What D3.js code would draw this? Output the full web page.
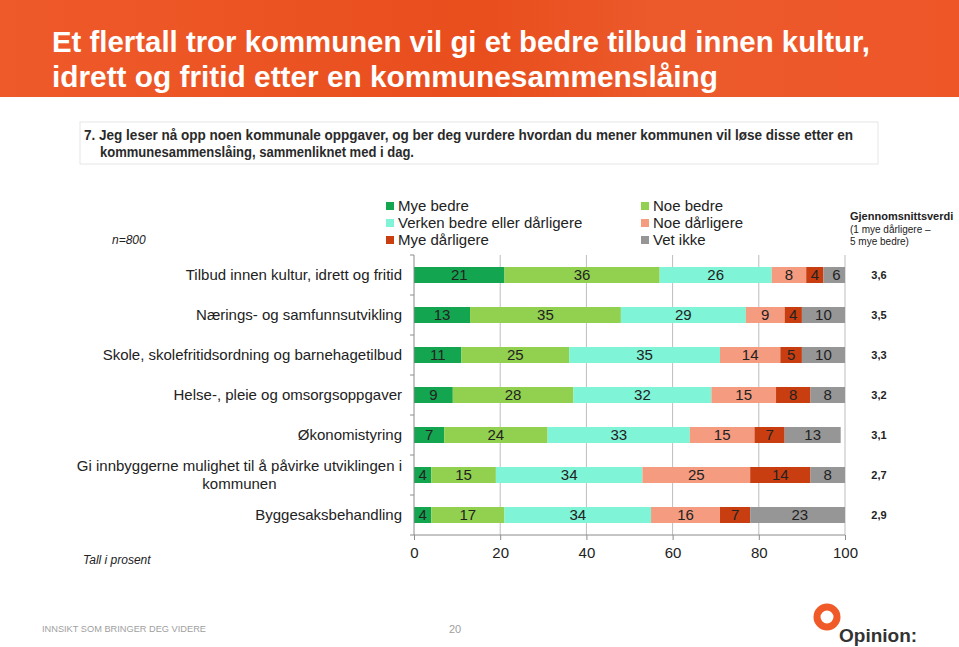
<!DOCTYPE html>
<html><head><meta charset="utf-8">
<script src="https://cdn.jsdelivr.net/npm/d3@7"></script>
<style>body{margin:0;background:#fff;}svg{display:block;font-family:Arial,"Liberation Sans",sans-serif;}</style>
</head><body>
<svg id="c" width="959" height="647"></svg>
<script>
const categories = [
  "Tilbud innen kultur, idrett og fritid",
  "Nærings- og samfunnsutvikling",
  "Skole, skolefritidsordning og barnehagetilbud",
  "Helse-, pleie og omsorgsoppgaver",
  "Økonomistyring",
  "Gi innbyggerne mulighet til å påvirke utviklingen i kommunen",
  "Byggesaksbehandling"
];
const seriesNames = ["Mye bedre","Noe bedre","Verken bedre eller dårligere","Noe dårligere","Mye dårligere","Vet ikke"];
const seriesColors = ["#14a550","#92d050","#7ff4d6","#f59b80","#c83e10","#969696"];
const myeBedre   = [21,13,11,9,7,4,4];
const noeBedre   = [36,35,25,28,24,15,17];
const verken     = [26,29,35,32,33,34,34];
const noeDarlig  = [8,9,14,15,15,25,16];
const myeDarlig  = [4,4,5,8,7,14,7];
const vetIkke    = [6,10,10,8,13,8,23];
const averages   = ["3,6","3,5","3,3","3,2","3,1","2,7","2,9"];
const xTicks     = [0,20,40,60,80,100];

const svg = d3.select("#c");
const defs = svg.append("defs");
const grad = defs.append("linearGradient").attr("id","hg").attr("x1","0").attr("x2","1").attr("y1","0").attr("y2","0");
grad.append("stop").attr("offset","0").attr("stop-color","#ef5a2a");
grad.append("stop").attr("offset","0.5").attr("stop-color","#e94e1d");
grad.append("stop").attr("offset","0.7").attr("stop-color","#ec5a2c");
grad.append("stop").attr("offset","1").attr("stop-color","#ee5628");
svg.append("rect").attr("x",0).attr("y",0).attr("width",959).attr("height",97).attr("fill","url(#hg)");

const titleLines = ["Et flertall tror kommunen vil gi et bedre tilbud innen kultur,","idrett og fritid etter en kommunesammenslåing"];
const titleW = [818, 666];
titleLines.forEach((t,i)=>{
  svg.append("text").attr("x",52).attr("y",52+i*35).attr("fill","#fff")
    .attr("font-size",29).attr("font-weight","bold")
    .attr("textLength",titleW[i]).attr("lengthAdjust","spacingAndGlyphs").text(t);
});

// question box
svg.append("rect").attr("x",80).attr("y",122).attr("width",798).attr("height",42).attr("fill","#fff").attr("stroke","#e6e6e6");
svg.append("text").attr("x",84).attr("y",140).attr("font-size",14).attr("font-weight","bold").attr("fill","#2a2a2a")
  .attr("textLength",769).attr("lengthAdjust","spacingAndGlyphs")
  .text("7. Jeg leser nå opp noen kommunale oppgaver, og ber deg vurdere hvordan du mener kommunen vil løse disse etter en");
svg.append("text").attr("x",100).attr("y",157).attr("font-size",14).attr("font-weight","bold").attr("fill","#2a2a2a")
  .attr("textLength",314).attr("lengthAdjust","spacingAndGlyphs")
  .text("kommunesammenslåing, sammenliknet med i dag.");

// legend
const legendPos = [[386,206],[641,206],[386,223],[641,223],[386,240],[641,240]];
seriesNames.forEach((n,i)=>{
  const [lx,ly] = legendPos[i];
  svg.append("rect").attr("x",lx).attr("y",ly-4).attr("width",8).attr("height",8).attr("fill",seriesColors[i]);
  svg.append("text").attr("x",lx+12).attr("y",ly).attr("dy","0.35em").attr("font-size",15).attr("fill","#222").text(n);
});
svg.append("text").attr("x",112).attr("y",240).attr("dy","0.35em").attr("font-size",12).attr("font-style","italic").attr("fill","#222").text("n=800");
svg.append("text").attr("x",850).attr("y",216).attr("dy","0.35em").attr("font-size",11).attr("font-weight","bold").attr("fill","#222").text("Gjennomsnittsverdi");
svg.append("text").attr("x",850).attr("y",229).attr("dy","0.35em").attr("font-size",10).attr("fill","#222").text("(1 mye dårligere –");
svg.append("text").attr("x",850).attr("y",241).attr("dy","0.35em").attr("font-size",10).attr("fill","#222").text("5 mye bedre)");

// scales
const x = d3.scaleLinear().domain([0,100]).range([414,845]);
const y = d3.scaleBand().domain(categories).range([255,535]).paddingInner(0.6).paddingOuter(0.3);

// gridlines
svg.append("g").selectAll("line").data(xTicks.slice(1)).join("line")
  .attr("x1",d=>x(d)).attr("x2",d=>x(d)).attr("y1",255).attr("y2",535)
  .attr("stroke","#bdbdbd").attr("stroke-width",1);

// stacked data
const seriesArrays = [myeBedre,noeBedre,verken,noeDarlig,myeDarlig,vetIkke];
const rows = categories.map((c,i)=>{
  const o = {cat:c};
  seriesNames.forEach((s,j)=>o[s]=seriesArrays[j][i]);
  return o;
});
const stack = d3.stack().keys(seriesNames)(rows);

defs.append("clipPath").attr("id","pc").append("rect").attr("x",x(0)).attr("y",250).attr("width",x(100)-x(0)).attr("height",290);
const barsG = svg.append("g").attr("clip-path","url(#pc)");
stack.forEach((layer,j)=>{
  barsG.append("g").selectAll("rect").data(layer).join("rect")
    .attr("x",d=>x(d[0])).attr("width",d=>x(d[1])-x(d[0]))
    .attr("y",d=>y(d.data.cat)).attr("height",y.bandwidth())
    .attr("fill",seriesColors[j]);
});
stack.forEach((layer,j)=>{
  svg.append("g").selectAll("text").data(layer).join("text")
    .attr("x",d=>x((d[0]+d[1])/2)).attr("y",d=>y(d.data.cat)+y.bandwidth()/2)
    .attr("dy","0.36em").attr("text-anchor","middle").attr("font-size",15).attr("fill","#222")
    .text(d=>d[1]-d[0]);
});

// left axis
const axisColor = "#8c8c8c";
svg.append("line").attr("x1",x(0)).attr("x2",x(0)).attr("y1",255).attr("y2",535).attr("stroke",axisColor);
const bounds = categories.map((c,i)=>255+i*y.step());
bounds.push(535);
svg.append("g").selectAll("line").data(bounds).join("line")
  .attr("x1",x(0)-4).attr("x2",x(0)).attr("y1",d=>d).attr("y2",d=>d).attr("stroke",axisColor);

// category labels
categories.forEach(c=>{
  const cy = y(c)+y.bandwidth()/2;
  if (c.startsWith("Gi innbyggerne")) {
    const t1 = svg.append("text").attr("x",402).attr("y",cy-9).attr("dy","0.35em").attr("text-anchor","end")
      .attr("font-size",15).attr("fill","#222").text("Gi innbyggerne mulighet til å påvirke utviklingen i");
    const w = t1.node().getComputedTextLength();
    svg.append("text").attr("x",402-w/2).attr("y",cy+9).attr("dy","0.35em").attr("text-anchor","middle")
      .attr("font-size",15).attr("fill","#222").text("kommunen");
  } else {
    svg.append("text").attr("x",402).attr("y",cy).attr("dy","0.35em").attr("text-anchor","end")
      .attr("font-size",15).attr("fill","#222").text(c);
  }
});

// averages
svg.append("g").selectAll("text").data(categories).join("text")
  .attr("x",879).attr("y",d=>y(d)+y.bandwidth()/2).attr("dy","0.35em").attr("text-anchor","middle")
  .attr("font-size",11).attr("font-weight","bold").attr("fill","#222")
  .text((d,i)=>averages[i]);

// bottom axis
const xAxis = d3.axisBottom(x).tickValues(xTicks).tickSize(5).tickPadding(7);
const gx = svg.append("g").attr("transform","translate(0,535)").call(xAxis);
gx.select(".domain").attr("stroke",axisColor).attr("d",`M${x(0)},0H${x(100)}`);
gx.selectAll(".tick line").attr("stroke",axisColor);
gx.selectAll(".tick text").attr("font-size",15).attr("fill","#222").attr("font-family","Arial, 'Liberation Sans', sans-serif");

svg.append("text").attr("x",83).attr("y",560).attr("dy","0.35em").attr("font-size",12).attr("font-style","italic").attr("fill","#222").text("Tall i prosent");

// footer
svg.append("text").attr("x",42).attr("y",629).attr("dy","0.35em").attr("font-size",9).attr("fill","#a0a0a0")
  .attr("textLength",164).attr("lengthAdjust","spacingAndGlyphs").text("INNSIKT SOM BRINGER DEG VIDERE");
svg.append("text").attr("x",455).attr("y",629).attr("dy","0.35em").attr("text-anchor","middle").attr("font-size",11).attr("fill","#a0a0a0").text("20");
svg.append("circle").attr("cx",827).attr("cy",617).attr("r",10).attr("fill","none").attr("stroke","#ef5a28").attr("stroke-width",7);
svg.append("text").attr("x",839).attr("y",642).attr("font-size",19).attr("font-weight","bold").attr("fill","#333").text("Opinion:");
</script>
</body></html>
